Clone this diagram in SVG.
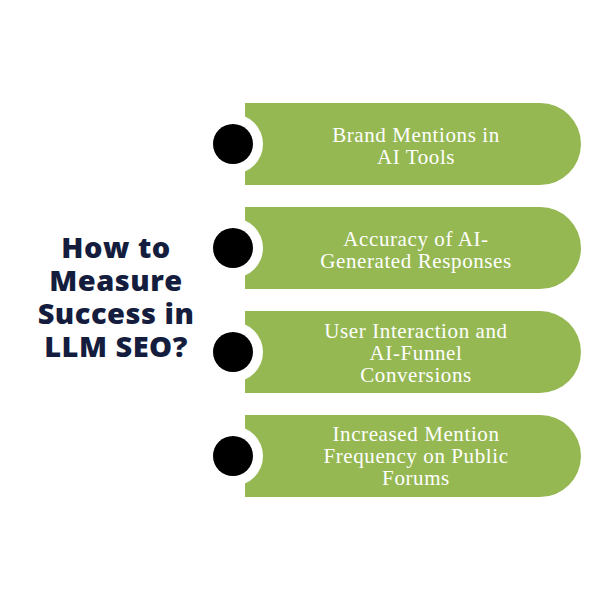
<svg xmlns="http://www.w3.org/2000/svg" width="600" height="600" viewBox="0 0 600 600">
<style>
.bar{fill:#95b853}
.ring{fill:#fff}
.dot{fill:#000}
.t{font-family:"Liberation Serif",serif;font-size:21px;letter-spacing:0.6px;fill:#fff;text-anchor:middle}
.h{font-family:"Open Sans","DejaVu Sans",sans-serif;font-weight:800;font-size:29px;letter-spacing:0.5px;fill:#141d3d;text-anchor:middle}
</style>
<rect width="600" height="600" fill="#fff"/>
<g id="title"><text class="h" x="116" y="258">How to</text><text class="h" x="116" y="291">Measure</text><text class="h" x="116" y="324">Success in</text><text class="h" x="116" y="357">LLM SEO?</text></g>
<g id="n1"><path class="bar" d="M245 103H540A41 41 0 0 1 540 185H245Z"/><circle class="ring" cx="233" cy="144" r="30"/><circle class="dot" cx="233" cy="144" r="20"/><text class="t" x="416" y="142">Brand Mentions in</text><text class="t" x="416" y="164">AI Tools</text></g>
<g id="n2"><path class="bar" d="M245 207H540A41 41 0 0 1 540 289H245Z"/><circle class="ring" cx="233" cy="248" r="30"/><circle class="dot" cx="233" cy="248" r="20"/><text class="t" x="416" y="246">Accuracy of AI-</text><text class="t" x="416" y="268">Generated Responses</text></g>
<g id="n3"><path class="bar" d="M245 311H540A41 41 0 0 1 540 393H245Z"/><circle class="ring" cx="233" cy="352" r="30"/><circle class="dot" cx="233" cy="352" r="20"/><text class="t" x="416" y="338">User Interaction and</text><text class="t" x="416" y="360">AI-Funnel</text><text class="t" x="416" y="382">Conversions</text></g>
<g id="n4"><path class="bar" d="M245 415H540A41 41 0 0 1 540 497H245Z"/><circle class="ring" cx="233" cy="456" r="30"/><circle class="dot" cx="233" cy="456" r="20"/><text class="t" x="416" y="441">Increased Mention</text><text class="t" x="416" y="463">Frequency on Public</text><text class="t" x="416" y="485">Forums</text></g>
<g id="connectors"/>
</svg>
